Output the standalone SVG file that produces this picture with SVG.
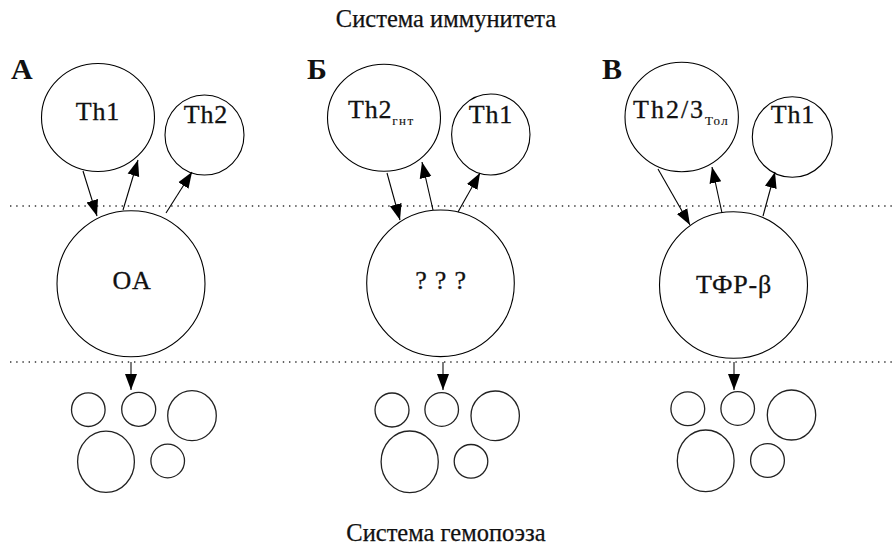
<svg xmlns="http://www.w3.org/2000/svg" width="893" height="554" viewBox="0 0 893 554">
<style>
.c{fill:none;stroke:#000;stroke-width:1.1}
.b{fill:none;stroke:#222;stroke-width:1.3}
.l{font-family:"Liberation Serif",serif;font-size:26px;letter-spacing:0.8px;fill:#111;stroke:#111;stroke-width:0.3}
.s{font-size:13px;letter-spacing:1.4px;stroke-width:0.15}
.p{font-family:"Liberation Serif",serif;font-size:30px;font-weight:bold;fill:#111}
.t{font-family:"Liberation Serif",serif;font-size:24.5px;fill:#111;stroke:#111;stroke-width:0.25}
.a{stroke:#000;stroke-width:1.1;marker-end:url(#ah)}
.d{stroke:#444;stroke-width:1.4;marker-end:url(#ah)}
.dot{stroke:#333;stroke-width:1.4;stroke-dasharray:1.4 4.8}
</style>
<defs>
<marker id="ah" markerUnits="userSpaceOnUse" markerWidth="17" markerHeight="14" refX="16" refY="7" orient="auto">
<path d="M0,1 L16,7 L0,13 z" fill="#000"/>
</marker>
</defs>
<rect width="893" height="554" fill="#fff"/>
<text class="t" x="446" y="27" text-anchor="middle">Система иммунитета</text>
<text class="t" x="446" y="541" text-anchor="middle">Система гемопоэза</text>
<g id="dividers">
<line class="dot" x1="10" y1="206" x2="893" y2="206"/>
<line class="dot" x1="10" y1="362" x2="893" y2="362"/>
</g>
<text class="p" x="11" y="79">A</text>
<text class="p" x="307" y="79">Б</text>
<text class="p" x="602" y="79">В</text>
<g id="A-Th1"><ellipse class="c" cx="98" cy="117.5" rx="56.5" ry="54"/><text class="l" x="98" y="120" text-anchor="middle">Th1</text></g>
<g id="A-Th2"><ellipse class="c" cx="204.5" cy="135" rx="39.5" ry="40"/><text class="l" x="206" y="123" text-anchor="middle">Th2</text></g>
<g id="A-OA"><ellipse class="c" cx="131" cy="283.7" rx="74" ry="73"/><text class="l" x="132" y="289" text-anchor="middle">OA</text></g>
<g id="A-cells">
<circle class="b" cx="88.3" cy="409.7" r="16.8"/>
<circle class="b" cx="138.7" cy="409.3" r="17"/>
<ellipse class="b" cx="192" cy="415.7" rx="24.3" ry="25"/>
<ellipse class="b" cx="106" cy="461.8" rx="28.4" ry="30.6"/>
<circle class="b" cx="167.7" cy="461" r="16.8"/>
</g>
<g id="B-Th2"><ellipse class="c" cx="384" cy="117.8" rx="56.5" ry="53.5"/><text class="l" x="348" y="118">Th2<tspan class="s" dy="7">гнт</tspan></text></g>
<g id="B-Th1"><ellipse class="c" cx="490.8" cy="134.5" rx="39.2" ry="40.5"/><text class="l" x="491" y="123" text-anchor="middle">Th1</text></g>
<g id="B-Q"><ellipse class="c" cx="440.5" cy="283.3" rx="73.8" ry="73.3"/><text class="l" x="441" y="289" text-anchor="middle">? ? ?</text></g>
<g id="B-cells">
<circle class="b" cx="392" cy="410" r="17"/>
<circle class="b" cx="441.7" cy="409.5" r="16.8"/>
<ellipse class="b" cx="495.2" cy="415.8" rx="24.2" ry="24.8"/>
<ellipse class="b" cx="409.7" cy="461.8" rx="28.6" ry="30.8"/>
<circle class="b" cx="471" cy="461.3" r="16.8"/>
</g>
<g id="C-Th23"><ellipse class="c" cx="681.7" cy="117" rx="56.7" ry="54.7"/><text class="l" x="633" y="118" style="letter-spacing:2px">Th2/3<tspan class="s" dy="7">Тол</tspan></text></g>
<g id="C-Th1"><ellipse class="c" cx="792.3" cy="137" rx="40" ry="40.3"/><text class="l" x="793" y="123" text-anchor="middle">Th1</text></g>
<g id="C-TGF"><ellipse class="c" cx="733.5" cy="285" rx="74" ry="73.3"/><text class="l" x="734" y="293" text-anchor="middle">ТФР-β</text></g>
<g id="C-cells">
<circle class="b" cx="687.8" cy="408.8" r="16.9"/>
<circle class="b" cx="737.7" cy="408.5" r="16.8"/>
<ellipse class="b" cx="791.5" cy="415" rx="24.2" ry="25"/>
<ellipse class="b" cx="705.7" cy="460.8" rx="28.4" ry="30.8"/>
<circle class="b" cx="767.5" cy="460.5" r="16.9"/>
</g>
<g id="connectors">
<line class="a" x1="83" y1="171" x2="97" y2="216"/>
<line class="a" x1="123" y1="210" x2="138" y2="160"/>
<line class="a" x1="166" y1="213" x2="192" y2="172"/>
<line class="d" x1="131" y1="362" x2="131" y2="390"/>
<line class="a" x1="387" y1="173" x2="400" y2="220"/>
<line class="a" x1="433" y1="210" x2="422" y2="162"/>
<line class="a" x1="458" y1="212" x2="480" y2="173"/>
<line class="d" x1="443" y1="362" x2="443" y2="390"/>
<line class="a" x1="658" y1="169" x2="690" y2="225"/>
<line class="a" x1="722" y1="213" x2="712" y2="167"/>
<line class="a" x1="763" y1="216" x2="775" y2="172"/>
<line class="d" x1="734" y1="362" x2="734" y2="390"/>
</g>
</svg>
